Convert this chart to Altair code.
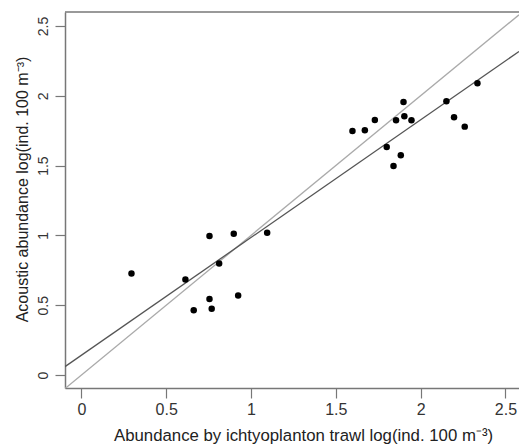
import altair as alt
import pandas as pd

# --- data ---
trawl = [0.295, 0.613, 0.755, 0.898, 0.812, 0.755, 0.662, 0.768, 0.924, 1.095,
         1.598, 1.671, 1.730, 1.855, 1.899, 1.904, 1.946, 1.800, 1.883, 1.840,
         2.152, 2.197, 2.260, 2.335]
acoustic = [0.727, 0.684, 0.995, 1.012, 0.799, 0.545, 0.464, 0.474, 0.569, 1.019,
            1.748, 1.753, 1.827, 1.825, 1.956, 1.853, 1.825, 1.633, 1.574, 1.497,
            1.961, 1.846, 1.779, 2.090]

x_domain = [-0.097, 2.58]
y_domain = [-0.093, 2.60]
tick_values = [0, 0.5, 1, 1.5, 2, 2.5]

reg_intercept = 0.142
reg_slope = 0.843

W, H = 454, 376
FONT = "Liberation Sans"
BOX = "#777777"

pts = pd.DataFrame({"trawl": trawl, "acoustic": acoustic})
xs = [x_domain[0], x_domain[1]]
reg = pd.DataFrame({"trawl": xs, "acoustic": [reg_intercept + reg_slope * v for v in xs]})
one = pd.DataFrame({"trawl": xs, "acoustic": xs})

x_enc = alt.X(
    "trawl:Q",
    scale=alt.Scale(domain=x_domain, nice=False, zero=False),
    axis=alt.Axis(
        values=tick_values, format="~g", grid=False,
        domainColor=BOX, domainWidth=1.5,
        tickColor=BOX, tickWidth=1.2, tickSize=10,
        labelFont=FONT, labelFontSize=16, labelColor="#333333", labelPadding=3,
        title="Abundance by ichtyoplanton trawl log(ind. 100 m⁻³)",
        titleFont=FONT, titleFontSize=16.8, titleFontWeight="normal", titleColor="#222222",
        titleX=238, titleY=52, titleAlign="center", titleBaseline="alphabetic",
    ),
)
y_enc = alt.Y(
    "acoustic:Q",
    scale=alt.Scale(domain=y_domain, nice=False, zero=False),
    axis=alt.Axis(
        values=tick_values, format="~g", grid=False,
        domainColor=BOX, domainWidth=1.5,
        tickColor=BOX, tickWidth=1.2, tickSize=10,
        labelFont=FONT, labelFontSize=14, labelColor="#333333", labelPadding=5,
        labelAngle=270, labelAlign="center", labelBaseline="bottom",
        title="Acoustic abundance log(ind. 100 m⁻³)",
        titleFont=FONT, titleFontSize=16, titleFontWeight="normal", titleColor="#222222",
        titleAngle=270, titleX=-38, titleY=177, titleAlign="center", titleBaseline="alphabetic",
    ),
)

line_one = alt.Chart(one).mark_line(color="#aaaaaa", strokeWidth=1.3, clip=True).encode(x=x_enc, y=y_enc)
line_reg = alt.Chart(reg).mark_line(color="#555555", strokeWidth=1.3, clip=True).encode(x=x_enc, y=y_enc)
points = alt.Chart(pts).mark_circle(color="black", opacity=1, size=42).encode(x=x_enc, y=y_enc)
top_border = alt.Chart(pd.DataFrame({"a": [0]})).mark_rule(color=BOX, strokeWidth=1.5).encode(
    x=alt.value(0), x2=alt.value(W), y=alt.value(0)
)

chart = (
    alt.layer(line_one, line_reg, points, top_border)
    .properties(width=W, height=H, autosize=alt.AutoSizeParams(type="none"),
                padding={"left": 65, "top": 12, "right": 0, "bottom": 56},
                background="white")
    .configure_view(stroke=None)
)

chart.save("out.html", embed_options={"renderer": "svg", "actions": False})
